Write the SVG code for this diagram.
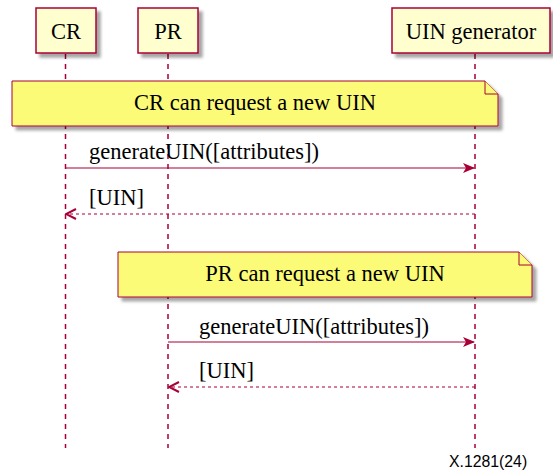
<svg xmlns="http://www.w3.org/2000/svg" width="553" height="472" viewBox="0 0 553 472">
<style>
.box{fill:#FEFECE;stroke:#A80036;stroke-width:1.5}
.note{fill:#FBFB77;stroke:#A80036;stroke-width:1}
.life{stroke:#A80036;stroke-width:1.5;stroke-dasharray:5,5;fill:none}
.msg{stroke:#A80036;stroke-width:1.2;fill:none}
.ret{stroke:#A80036;stroke-width:1.2;stroke-dasharray:3,3;fill:none}
.t{font-family:"Liberation Serif","Times New Roman",serif;font-size:22.5px;fill:#000}
.foot{font-family:"Liberation Sans",Arial,sans-serif;font-size:15.8px;fill:#000}
</style>
<defs>
<filter id="sh" x="-10%" y="-10%" width="130%" height="140%">
<feGaussianBlur in="SourceAlpha" stdDeviation="1.5"/>
<feOffset dx="4" dy="4" result="b"/>
<feFlood flood-color="#000" flood-opacity="0.35"/>
<feComposite in2="b" operator="in"/>
<feMerge><feMergeNode/><feMergeNode in="SourceGraphic"/></feMerge>
</filter>
<marker id="ah" viewBox="0 0 12 10" refX="11" refY="5" markerWidth="12" markerHeight="10" markerUnits="userSpaceOnUse" orient="auto">
<path d="M0,0 L12,5 L0,10 L3,5 Z" fill="#A80036"/>
</marker>
<marker id="oh" viewBox="0 0 12 12" refX="11" refY="6" markerWidth="12" markerHeight="12" markerUnits="userSpaceOnUse" orient="auto">
<path d="M1,1 L11,6 L1,11" fill="none" stroke="#A80036" stroke-width="2"/>
</marker>
</defs>
<rect width="553" height="472" fill="#fff"/>
<g id="lifelines">
<line class="life" x1="65.5" y1="54" x2="65.5" y2="448"/>
<line class="life" x1="168" y1="54" x2="168" y2="448"/>
<line class="life" x1="475" y1="54" x2="475" y2="448"/>
</g>
<g id="CR"><rect class="box" x="36" y="8" width="60" height="45" filter="url(#sh)"/><text class="t" x="66" y="39" text-anchor="middle">CR</text></g>
<g id="PR"><rect class="box" x="138" y="8" width="60" height="45" filter="url(#sh)"/><text class="t" x="168" y="39" text-anchor="middle">PR</text></g>
<g id="UINgen"><rect class="box" x="392" y="8" width="158" height="45" filter="url(#sh)"/><text class="t" x="471" y="39" text-anchor="middle">UIN generator</text></g>
<g id="note1"><path class="note" d="M12,81 L485,81 L498,94 L498,126 L12,126 Z" filter="url(#sh)"/><path class="note" d="M485,81 L485,94 L498,94" fill="none"/><text class="t" x="255" y="110" text-anchor="middle">CR can request a new UIN</text></g>
<g id="note2"><path class="note" d="M118,252 L519,252 L532,265 L532,297 L118,297 Z" filter="url(#sh)"/><path class="note" d="M519,252 L519,265 L532,265" fill="none"/><text class="t" x="325" y="281" text-anchor="middle">PR can request a new UIN</text></g>
<g id="connectors">
<line class="msg" x1="65.5" y1="168" x2="474" y2="168" marker-end="url(#ah)"/>
<text class="t" x="89" y="159">generateUIN([attributes])</text>
<line class="ret" x1="475" y1="214" x2="66" y2="214" marker-end="url(#oh)"/>
<text class="t" x="89" y="205">[UIN]</text>
<line class="msg" x1="168" y1="342" x2="474" y2="342" marker-end="url(#ah)"/>
<text class="t" x="199" y="334">generateUIN([attributes])</text>
<line class="ret" x1="475" y1="387" x2="169" y2="387" marker-end="url(#oh)"/>
<text class="t" x="199" y="378">[UIN]</text>
</g>
<text class="foot" x="449" y="467">X.1281(24)</text>
</svg>
